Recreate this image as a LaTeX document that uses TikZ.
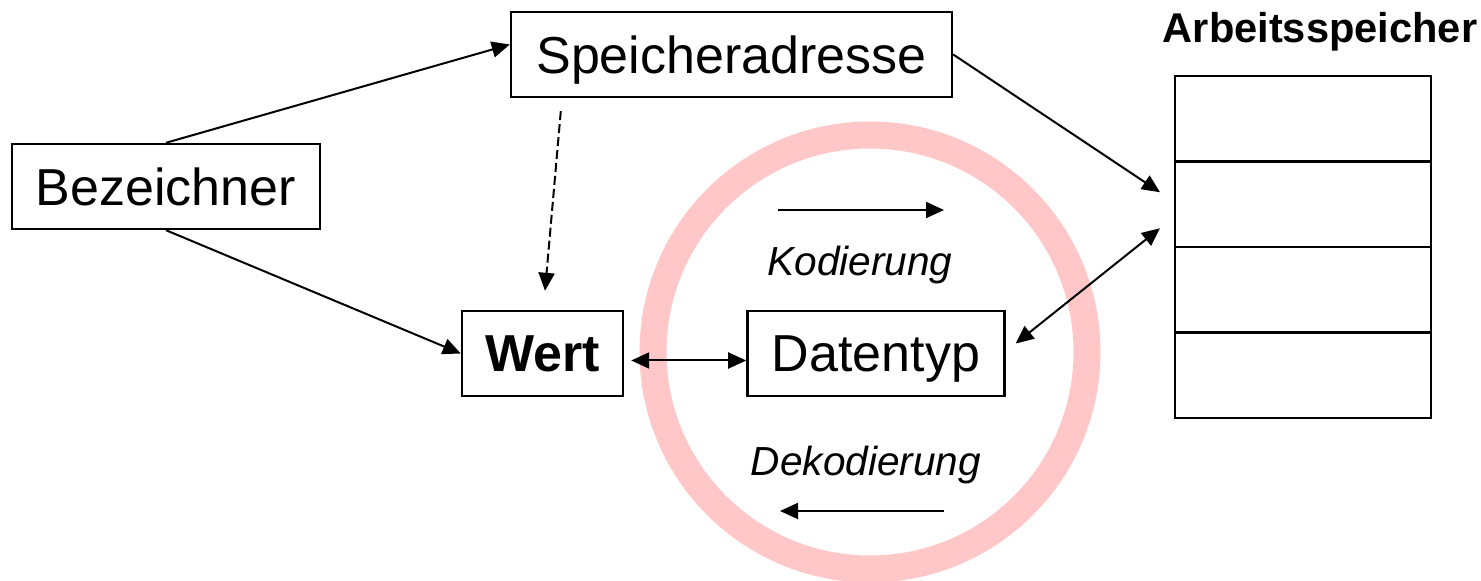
\documentclass[tikz,border=0pt]{standalone}
\usepackage{fontspec}
\setmainfont{Liberation Sans}
\usetikzlibrary{positioning,arrows.meta}

\begin{document}
\begin{tikzpicture}[
    x=0.5pt, y=-0.5pt,
    node distance=0pt,
    box/.style={draw, line width=1.2pt, minimum height=42.5pt, inner sep=0pt,
                text depth=0pt, font=\fontsize{26}{30}\selectfont},
    cell/.style={draw, line width=1.3pt, minimum width=128pt, minimum height=42.75pt,
                 inner sep=0pt, outer sep=0pt},
    arrow/.style={-{Triangle[length=9pt,width=8pt]}, line width=1pt},
    twoway/.style={{Triangle[length=9pt,width=8pt]}-{Triangle[length=9pt,width=8pt]},
                   line width=1pt},
    note/.style={font=\fontsize{20.3}{24}\selectfont\itshape},
    ring/.style={draw=red!22, line width=13.5pt},
  ]
  \useasboundingbox (0,0) rectangle (1481,581);

  % Ring behind everything
  \draw[ring] (870,352) circle[radius=108.5pt];

  % Boxes
  \node[box, minimum width=154pt] (bez) at (166,186.5) {Bezeichner};
  \node[box, minimum width=220.5pt] (adr) at (731.5,54.5) {Speicheradresse};
  \node[box, minimum width=80.5pt, font=\fontsize{26}{30}\selectfont\bfseries] (wert) at (542.5,353.5) {Wert};
  \node[box, minimum width=128.5pt, right=61pt of wert] (dat) {Datentyp};

  % Memory
  \node[font=\fontsize{20.8}{24}\selectfont\bfseries] (titel) at (1320,32) {Arbeitsspeicher};
  \node[cell] (mem1) at (1303,118.75) {};
  \foreach \i [count=\j from 2] in {1,2,3}
    \node[cell, below=0pt of mem\i] (mem\j) {};

  % Labels in the ring
  \node[note] (kod) at (860,265) {Kodierung};
  \node[note] (dek) at (866,465) {Dekodierung};
  \coordinate (k1) at (778,210);
  \coordinate (k2) at (944,210);
  \coordinate (d1) at (944,511);
  \coordinate (d2) at (780,511);

  % Free ends
  \coordinate (memin) at ([xshift=-7.5pt,yshift=6pt]mem2.west);
  \coordinate (memout) at ([xshift=-7.5pt,yshift=-12pt]mem2.west);
  \coordinate (dashtop) at ([xshift=25.5pt,yshift=-6.5pt]adr.south west);

  % Arrows
  \draw[arrow] (bez.north) -- ([yshift=5pt]adr.west);
  \draw[arrow] (bez.south) -- (wert.west);
  \draw[arrow] (adr.east) -- (memin);
  \draw[arrow, dash pattern=on 4.5pt off 2pt] (dashtop) -- ([xshift=1.25pt,yshift=9.5pt]wert.north);
  \draw[twoway] ([xshift=3.5pt,yshift=-3.5pt]wert.east) -- ([yshift=-3.5pt]dat.west);
  \draw[twoway] ([xshift=5pt,yshift=5pt]dat.east) -- (memout);
  \draw[arrow] (k1) -- (k2);
  \draw[arrow] (d1) -- (d2);

\end{tikzpicture}
\end{document}
